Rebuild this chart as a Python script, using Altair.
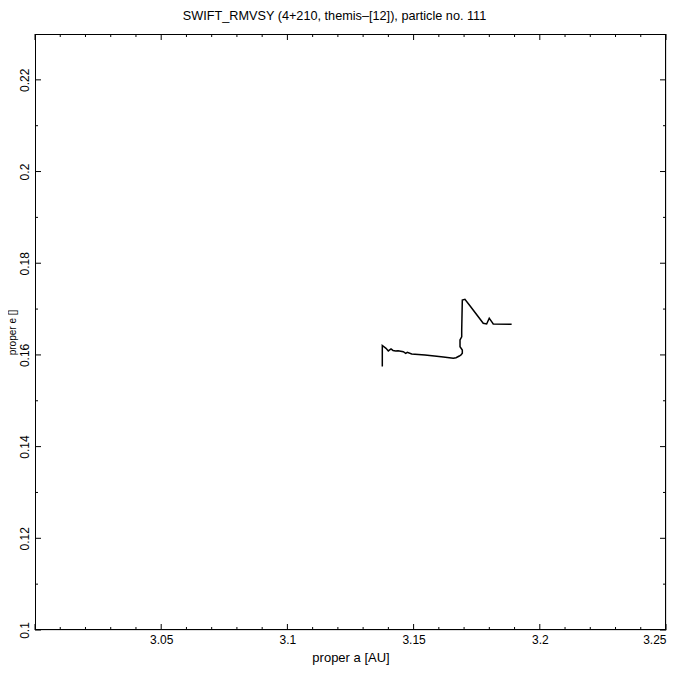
import altair as alt
import pandas as pd

# Trajectory of the particle (proper a [AU], proper e)
a_vals = [3.13760, 3.13760, 3.13907, 3.13998, 3.14105, 3.14184, 3.14291, 3.14382,
          3.14592, 3.14687, 3.14751, 3.14925, 3.15452, 3.15915, 3.16177, 3.16573,
          3.16680, 3.16811, 3.16878, 3.16930, 3.16930, 3.16839, 3.16839, 3.16906,
          3.16906, 3.16930, 3.17034, 3.17232, 3.17759, 3.17894, 3.17997, 3.18092,
          3.18155, 3.18884]
e_vals = [0.15747, 0.16206, 0.16144, 0.16086, 0.16129, 0.16097, 0.16086, 0.16092,
          0.16070, 0.16035, 0.16057, 0.16020, 0.15998, 0.15970, 0.15955, 0.15926,
          0.15939, 0.15976, 0.15998, 0.16035, 0.16107, 0.16180, 0.16325, 0.16397,
          0.16544, 0.17198, 0.17213, 0.17074, 0.16690, 0.16675, 0.16799, 0.16725,
          0.16675, 0.16668]

x_major = [3.0, 3.05, 3.1, 3.15, 3.2, 3.25]
x_labels = [3.05, 3.1, 3.15, 3.2, 3.25]
x_minor = [3.01, 3.02, 3.03, 3.04, 3.06, 3.07, 3.08, 3.09, 3.11, 3.12, 3.13, 3.14,
           3.16, 3.17, 3.18, 3.19, 3.21, 3.22, 3.23, 3.24]
y_major = [0.1, 0.12, 0.14, 0.16, 0.18, 0.2, 0.22]
y_minor = [0.11, 0.13, 0.15, 0.17, 0.19, 0.21]

W, H = 631, 596
MAJ, MIN = 6, 3
FONT = "Liberation Sans"

xs = alt.Scale(domain=[3.0, 3.25], nice=False, zero=False)
ys = alt.Scale(domain=[0.1, 0.23], nice=False, zero=False)

traj = pd.DataFrame({"a": a_vals, "e": e_vals, "i": range(len(a_vals))})

line = alt.Chart(traj).mark_line(color="black", strokeWidth=1.5).encode(
    x=alt.X("a:Q", scale=xs,
            axis=alt.Axis(title="proper a [AU]", values=x_labels, format="~g",
                          grid=False, ticks=False, tickSize=0, domain=False,
                          labelFlush=True, labelOverlap=False, labelPadding=4,
                          titlePadding=6, titleFontWeight="normal",
                          labelFont=FONT, labelFontSize=12, labelColor="black",
                          titleFont=FONT, titleFontSize=13, titleColor="black")),
    y=alt.Y("e:Q", scale=ys,
            axis=alt.Axis(title="proper e []", values=y_major, format="~g",
                          grid=False, ticks=False, tickSize=0, domain=False,
                          labelFlush=False, labelOverlap=False, labelAngle=-90,
                          labelAlign="center", labelBaseline="bottom",
                          labelPadding=4, titleFontWeight="normal",
                          titleX=-18, titleY=H / 2, titleAngle=270,
                          titleAlign="center", titleBaseline="bottom",
                          labelFont=FONT, labelFontSize=12, labelColor="black",
                          titleFont=FONT, titleFontSize=10, titleColor="black")),
    order="i:Q",
)

frame_df = pd.DataFrame({"k": [0]})
frame = [
    alt.Chart(frame_df).mark_rule(color="black", strokeWidth=1).encode(
        x=alt.value(0.5), y=alt.value(0), y2=alt.value(H)),
    alt.Chart(frame_df).mark_rule(color="black", strokeWidth=1).encode(
        x=alt.value(W - 0.5), y=alt.value(0), y2=alt.value(H)),
    alt.Chart(frame_df).mark_rule(color="black", strokeWidth=1).encode(
        y=alt.value(0.5), x=alt.value(0), x2=alt.value(W)),
    alt.Chart(frame_df).mark_rule(color="black", strokeWidth=1).encode(
        y=alt.value(H - 0.5), x=alt.value(0), x2=alt.value(W)),
]


def xticks(vals, length):
    df = pd.DataFrame({"v": vals})
    bottom = alt.Chart(df).mark_rule(color="black", strokeWidth=1).encode(
        x=alt.X("v:Q", scale=xs), y=alt.value(H), y2=alt.value(H - length))
    top = alt.Chart(df).mark_rule(color="black", strokeWidth=1).encode(
        x=alt.X("v:Q", scale=xs), y=alt.value(0), y2=alt.value(length))
    return [bottom, top]


def yticks(vals, length):
    df = pd.DataFrame({"v": vals})
    left = alt.Chart(df).mark_rule(color="black", strokeWidth=1).encode(
        y=alt.Y("v:Q", scale=ys), x=alt.value(0), x2=alt.value(length))
    right = alt.Chart(df).mark_rule(color="black", strokeWidth=1).encode(
        y=alt.Y("v:Q", scale=ys), x=alt.value(W), x2=alt.value(W - length))
    return [left, right]


layers = ([line] + frame + xticks(x_major, MAJ) + xticks(x_minor, MIN)
          + yticks(y_major, MAJ) + yticks(y_minor, MIN))

chart = alt.layer(*layers).properties(
    width=W, height=H,
    title=alt.TitleParams("SWIFT_RMVSY (4+210, themis–[12]), particle no. 111",
                          font=FONT, fontSize=12.7, fontWeight="normal",
                          color="black", anchor="middle", offset=11, dx=-16),
    autosize=alt.AutoSizeParams(type="none"),
    padding={"left": 27, "top": 26, "right": 6, "bottom": 40},
).configure_view(
    stroke=None
).configure(background="white")

chart.save("out.html", embed_options={"renderer": "svg", "actions": False})
